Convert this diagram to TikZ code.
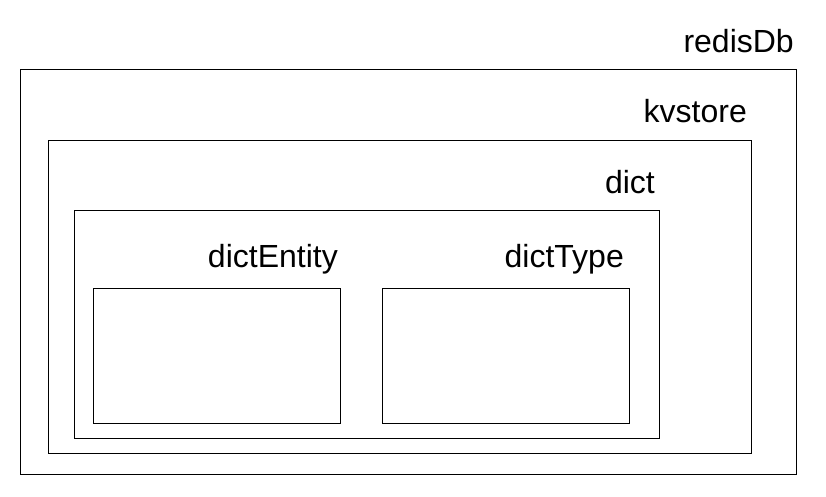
\documentclass[tikz,border=0pt]{standalone}
\usepackage{fontspec}
\setmainfont{Liberation Sans}
\usetikzlibrary{positioning}

\begin{document}
\begin{tikzpicture}[x=1pt,y=-1pt,
    box/.style={draw,line width=1pt,anchor=north west,inner sep=0pt},
    lbl/.style={anchor=base east,inner sep=0pt,font=\fontsize{32}{38}\selectfont}]
        \useasboundingbox (0,0) rectangle (826,496);
        \path
        % outer layers
        (20,69)   node[box,minimum width=776pt,minimum height=405pt] (redisdb) {}
        (48,140)  node[box,minimum width=703pt,minimum height=313pt] (kvstore) {}
        (74,210)  node[box,minimum width=585pt,minimum height=228pt] (dict) {}
        % inner boxes
        (93,288)  node[box,minimum width=247pt,minimum height=135pt] (entity) {}
        (382,288) node[box,minimum width=247pt,minimum height=135pt] (dicttype) {};

        \node[lbl] (redisdblbl) at ([xshift=-3pt,yshift=17pt]redisdb.north east) {redisDb};
        \node[lbl] (kvstorelbl) at ([xshift=-5pt,yshift=18pt]kvstore.north east) {kvstore};
        \node[lbl] (dictlbl) at ([xshift=-5pt,yshift=17pt]dict.north east) {dict};
        \node[lbl] (entitylbl) at ([xshift=-3pt,yshift=21pt]entity.north east) {dictEntity};
        \node[lbl] (dicttypelbl) at ([xshift=-6pt,yshift=21pt]dicttype.north east) {dictType};
    \end{tikzpicture}
\end{document}
